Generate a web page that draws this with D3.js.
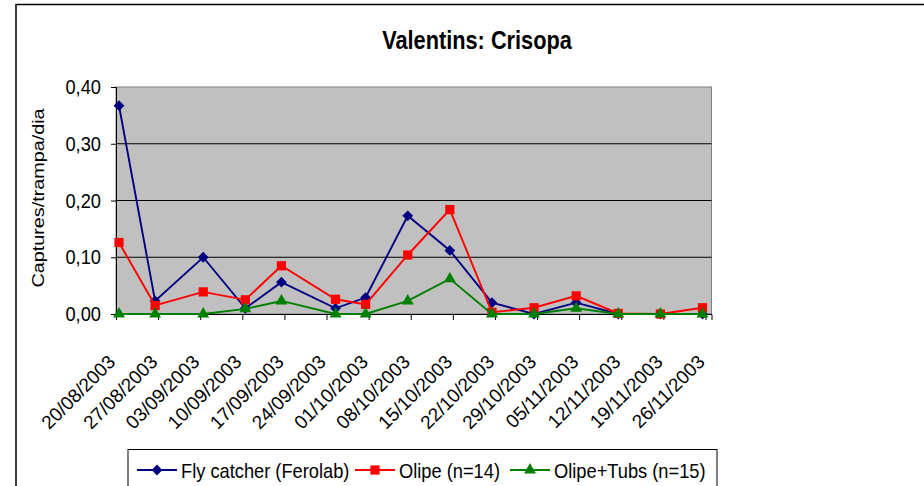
<!DOCTYPE html>
<html lang="ca">
<head>
  <meta charset="UTF-8"/>
  <title>Valentins: Crisopa</title>
  <script src="https://d3js.org/d3.v7.min.js"></script>
  <style>
    body { margin:0; background:#fff; font-family:"Liberation Sans",Arial,sans-serif; }
    svg { display:block; }
    .axis path, .axis line { stroke:#000; }
    .axis text { fill:#000; font-family:"Liberation Sans",Arial,sans-serif; }
  </style>
</head>
<body>
  <svg id="chart" width="924" height="486"></svg>

  <script>
    // sampling dates and captures/trap/day per series
    const sampleDates = ['20/08/2003','26/08/2003','03/09/2003','10/09/2003','16/09/2003',
                         '25/09/2003','30/09/2003','07/10/2003','14/10/2003','21/10/2003',
                         '28/10/2003','04/11/2003','11/11/2003','18/11/2003','25/11/2003'];
    const flyCatcher = [0.367,0.023,0.100,0.010,0.056,0.010,0.029,0.173,0.112,0.020,0.000,0.020,0.000,0.000,0.000];
    const olipe      = [0.126,0.015,0.039,0.025,0.085,0.026,0.017,0.104,0.184,0.003,0.011,0.032,0.001,0.000,0.011];
    const olipeTubs  = [0.000,0.000,0.000,0.009,0.023,0.000,0.000,0.023,0.062,0.000,0.000,0.010,0.000,0.000,0.000];

    const tickLabels = ['20/08/2003','27/08/2003','03/09/2003','10/09/2003','17/09/2003',
                        '24/09/2003','01/10/2003','08/10/2003','15/10/2003','22/10/2003',
                        '29/10/2003','05/11/2003','12/11/2003','19/11/2003','26/11/2003'];
    const yTicks = [0, 0.1, 0.2, 0.3, 0.4];

    const seriesNames  = ['Fly catcher (Ferolab)','Olipe (n=14)','Olipe+Tubs (n=15)'];
    const seriesColors = ['#000080','#ff0000','#008000'];

    // excel-like diamond (rotated square)
    const diamond = {
      draw(ctx, size){
        const r = Math.sqrt(size/2);
        ctx.moveTo(0,-r); ctx.lineTo(r,0); ctx.lineTo(0,r); ctx.lineTo(-r,0); ctx.closePath();
      }
    };
    const seriesShapes = [diamond, d3.symbolSquare, d3.symbolTriangle];
    const seriesSizes  = [58, 85, 62];

    const parse = d3.timeParse('%d/%m/%Y');
    const svg = d3.select('#chart');
    const squeeze = 'scale(0.87,1)';   // the original text is tall and narrow

    const plot = { left:116, right:711.5, top:87, bottom:314 };

    const x = d3.scaleTime()
      .domain([parse(tickLabels[0]), d3.timeDay.offset(parse(tickLabels[tickLabels.length-1]), 1)])
      .range([plot.left, plot.right]);
    const y = d3.scaleLinear().domain([0, 0.4]).range([plot.bottom, plot.top]);

    // outer chart frame (runs off the right and bottom edges)
    svg.append('rect')
      .attr('x',16).attr('y',4.5).attr('width',940).attr('height',520)
      .attr('fill','#fff').attr('stroke','#000').attr('stroke-width',1.5);

    // title
    svg.append('text')
      .attr('transform',`translate(477,48.5) ${squeeze}`)
      .attr('text-anchor','middle')
      .attr('font-size','25px').attr('font-weight','bold')
      .text('Valentins: Crisopa');

    // plot area
    svg.append('rect')
      .attr('x',plot.left).attr('y',plot.top)
      .attr('width',plot.right-plot.left).attr('height',plot.bottom-plot.top)
      .attr('fill','#c0c0c0').attr('stroke','#808080').attr('stroke-width',1);

    // gridlines
    svg.append('g')
      .selectAll('line')
      .data(yTicks.filter(d=>d>0 && d<0.4))
      .join('line')
        .attr('x1',plot.left).attr('x2',plot.right)
        .attr('y1',d=>y(d)).attr('y2',d=>y(d))
        .attr('stroke','#000').attr('stroke-width',1);

    // y axis
    svg.append('g')
      .attr('class','axis')
      .attr('transform',`translate(${plot.left},0)`)
      .call(d3.axisLeft(y).tickValues(yTicks).tickSize(5).tickPadding(10)
        .tickFormat(d=>d3.format('.2f')(d).replace('.',',')))
      .call(g=>g.selectAll('text')
        .attr('font-size','21px')
        .attr('x',0)
        .attr('transform',`translate(-15,0) ${squeeze}`));

    svg.append('text')
      .attr('transform','translate(44,198) rotate(-90) scale(1.1,0.95)')
      .attr('text-anchor','middle')
      .attr('font-size','18px')
      .text('Captures/trampa/dia');

    // x axis (weekly ticks)
    const xAxis = svg.append('g')
      .attr('class','axis')
      .attr('transform',`translate(0,${plot.bottom})`)
      .call(d3.axisBottom(x).tickValues(tickLabels.map(parse)).tickSize(6)
        .tickFormat((d,i)=>tickLabels[i]));
    xAxis.selectAll('text')
      .attr('font-size','19px')
      .attr('text-anchor','end')
      .attr('x',0).attr('y',0).attr('dy',0)
      .attr('transform','translate(0,49) rotate(-45)');

    // series
    const series = [flyCatcher, olipe, olipeTubs];
    const dates = sampleDates.map(d=>d3.timeHour.offset(parse(d), 12));
    const line = d3.line().x((d,i)=>x(dates[i])).y(d=>y(d));

    series.forEach((vals,s)=>{
      const g = svg.append('g');
      g.append('path')
        .datum(vals)
        .attr('d',line)
        .attr('fill','none')
        .attr('stroke',seriesColors[s])
        .attr('stroke-width',1.9);
      g.selectAll('path.mk')
        .data(vals)
        .join('path')
          .attr('class','mk')
          .attr('transform',(d,i)=>`translate(${x(dates[i])},${y(d)})`)
          .attr('d',d3.symbol(seriesShapes[s], seriesSizes[s]))
          .attr('fill',seriesColors[s]);
    });

    // legend
    const lg = svg.append('g');
    lg.append('rect')
      .attr('x',128).attr('y',449.5).attr('width',589).attr('height',50)
      .attr('fill','#fff').attr('stroke','#000').attr('stroke-width',1);
    const legendX = [137, 355, 510];
    seriesNames.forEach((name,s)=>{
      const it = lg.append('g').attr('transform',`translate(${legendX[s]},470)`);
      it.append('line').attr('x1',0).attr('x2',40)
        .attr('stroke',seriesColors[s]).attr('stroke-width',1.9);
      it.append('path').attr('transform','translate(20,0)')
        .attr('d',d3.symbol(seriesShapes[s], seriesSizes[s]))
        .attr('fill',seriesColors[s]);
      it.append('text').attr('transform',`translate(44,8) ${squeeze}`)
        .attr('font-size','21px')
        .text(name);
    });
  </script>
</body>
</html>
